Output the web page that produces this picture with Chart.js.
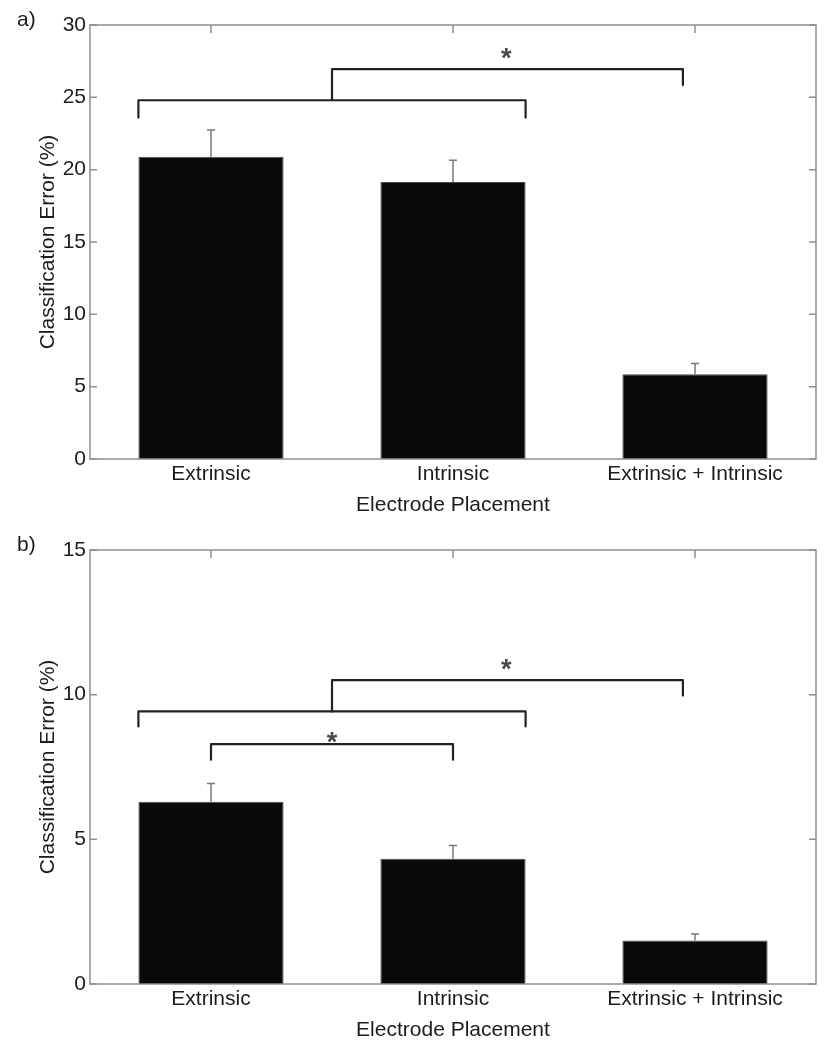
<!DOCTYPE html>
<html>
<head>
<meta charset="utf-8">
<script src="https://cdn.jsdelivr.net/npm/chart.js@4.4.1/dist/chart.umd.min.js"></script>
<style>
  body { margin: 0; background: #fff; }
  canvas { display: block; }
</style>
</head>
<body>
<canvas id="chartA" width="827" height="525"></canvas>
<canvas id="chartB" width="827" height="525"></canvas>
<script>
const categories = ['Extrinsic', 'Intrinsic', 'Extrinsic + Intrinsic'];

// panel a)
const meanA = [20.9, 19.15, 5.85];
const sdA = [1.85, 1.5, 0.75];
const yTicksA = [0, 5, 10, 15, 20, 25, 30];
// brackets: [x, y] points in data units (x = category index)
const bracketsA = [
    [[-0.3, 23.6], [-0.3, 24.8], [1.3, 24.8], [1.3, 23.6]],
    [[0.5, 24.8], [0.5, 26.95], [1.95, 26.95], [1.95, 25.85]]
];
const starXA = [1.22];
const starYA = [28.05];

// panel b)
const meanB = [6.3, 4.33, 1.5];
const sdB = [0.63, 0.46, 0.23];
const yTicksB = [0, 5, 10, 15];
const bracketsB = [
    [[-0.3, 8.9], [-0.3, 9.42], [1.3, 9.42], [1.3, 8.9]],
    [[0.5, 9.42], [0.5, 10.5], [1.95, 10.5], [1.95, 9.97]],
    [[0, 7.75], [0, 8.29], [1, 8.29], [1, 7.75]]
];
const starXB = [1.22, 0.5];
const starYB = [11.05, 8.53];

const textColor = '#1c1c1c';
const axisColor = '#8f8f8f';
const font = { family: 'Liberation Sans, Arial, sans-serif', size: 21 };

const figPlugin = {
    id: 'fig',
    beforeDatasetsDraw(chart, args, opts) {
        const { ctx, chartArea: a, scales } = chart;
        ctx.save();
        ctx.strokeStyle = axisColor;
        ctx.lineWidth = 1.5;
        ctx.beginPath();
        opts.yTicks.forEach(v => {
            const y = scales.y.getPixelForValue(v);
            ctx.moveTo(a.left, y); ctx.lineTo(a.left + 7, y);
            ctx.moveTo(a.right, y); ctx.lineTo(a.right - 7, y);
        });
        categories.forEach((c, i) => {
            const x = scales.x.getPixelForValue(i);
            ctx.moveTo(x, a.top); ctx.lineTo(x, a.top + 8);
            ctx.moveTo(x, a.bottom); ctx.lineTo(x, a.bottom - 8);
        });
        ctx.stroke();
        ctx.restore();
    },
    afterDatasetsDraw(chart, args, opts) {
        const { ctx, chartArea: a, scales } = chart;
        ctx.save();
        // frame
        ctx.strokeStyle = axisColor;
        ctx.lineWidth = 1.5;
        ctx.strokeRect(a.left, a.top, a.right - a.left, a.bottom - a.top);
        // error bars
        ctx.strokeStyle = '#7a7a7a';
        ctx.lineWidth = 1.5;
        ctx.beginPath();
        opts.mean.forEach((m, i) => {
            const x = scales.x.getPixelForValue(i);
            const y0 = scales.y.getPixelForValue(m);
            const y1 = scales.y.getPixelForValue(m + opts.sd[i]);
            ctx.moveTo(x, y0); ctx.lineTo(x, y1);
            ctx.moveTo(x - 4, y1); ctx.lineTo(x + 4, y1);
        });
        ctx.stroke();
        // significance stars
        ctx.fillStyle = '#4a4a4a';
        ctx.font = 'bold 27px Liberation Sans, Arial, sans-serif';
        ctx.textAlign = 'center';
        ctx.textBaseline = 'alphabetic';
        const m = ctx.measureText('*');
        const off = (m.actualBoundingBoxAscent - m.actualBoundingBoxDescent) / 2;
        opts.starX.forEach((sx, i) => {
            ctx.fillText('*', scales.xb.getPixelForValue(sx), scales.y.getPixelForValue(opts.starY[i]) + off);
        });
        // panel label
        ctx.fillStyle = textColor;
        ctx.font = '21px Liberation Sans, Arial, sans-serif';
        ctx.textAlign = 'left';
        ctx.fillText(opts.label, 17, 26);
        ctx.restore();
    }
};

function makePanel(id, label, mean, sd, yMax, yTicks, brackets, starX, starY) {
    const datasets = [{
        type: 'bar',
        data: mean,
        backgroundColor: '#0a0a0a',
        borderColor: '#4a4a4a',
        borderWidth: 1,
        grouped: false,
        barPercentage: 0.6,
        categoryPercentage: 1.0,
        order: 2
    }];
    brackets.forEach(b => {
        datasets.push({
            type: 'line',
            xAxisID: 'xb',
            data: b.map(p => ({ x: p[0], y: p[1] })),
            borderColor: '#222',
            borderWidth: 2.2,
            borderJoinStyle: 'round',
            borderCapStyle: 'round',
            pointRadius: 0,
            fill: false,
            order: 1
        });
    });
    new Chart(document.getElementById(id), {
        type: 'bar',
        data: { labels: categories, datasets: datasets },
        options: {
            responsive: false,
            animation: false,
            layout: { padding: { top: 25, right: 11, bottom: 0, left: 0 } },
            plugins: {
                legend: { display: false },
                tooltip: { enabled: false },
                fig: { label: label, mean: mean, sd: sd, yTicks: yTicks, starX: starX, starY: starY }
            },
            scales: {
                x: {
                    type: 'category',
                    grid: { display: false, drawTicks: false },
                    border: { display: false },
                    ticks: { color: textColor, font: font, padding: 3, maxRotation: 0 },
                    title: { display: true, text: 'Electrode Placement', color: textColor, font: font, padding: { top: 0, bottom: 7 } },
                    afterFit: s => { s.height = 66; }
                },
                xb: {
                    type: 'linear',
                    display: false,
                    offset: false,
                    grid: { offset: false },
                    min: -0.5,
                    max: 2.5
                },
                y: {
                    min: 0,
                    max: yMax,
                    grid: { display: false, drawTicks: false },
                    border: { display: false },
                    afterBuildTicks: s => { s.ticks = yTicks.map(v => ({ value: v })); },
                    ticks: { color: textColor, font: font, padding: 4 },
                    title: { display: true, text: 'Classification Error (%)', color: textColor, font: font, padding: { top: 36, bottom: 0 } },
                    afterFit: s => { s.width = 90; }
                }
            }
        },
        plugins: [figPlugin]
    });
}

makePanel('chartA', 'a)', meanA, sdA, 30, yTicksA, bracketsA, starXA, starYA);
makePanel('chartB', 'b)', meanB, sdB, 15, yTicksB, bracketsB, starXB, starYB);
</script>
</body>
</html>
